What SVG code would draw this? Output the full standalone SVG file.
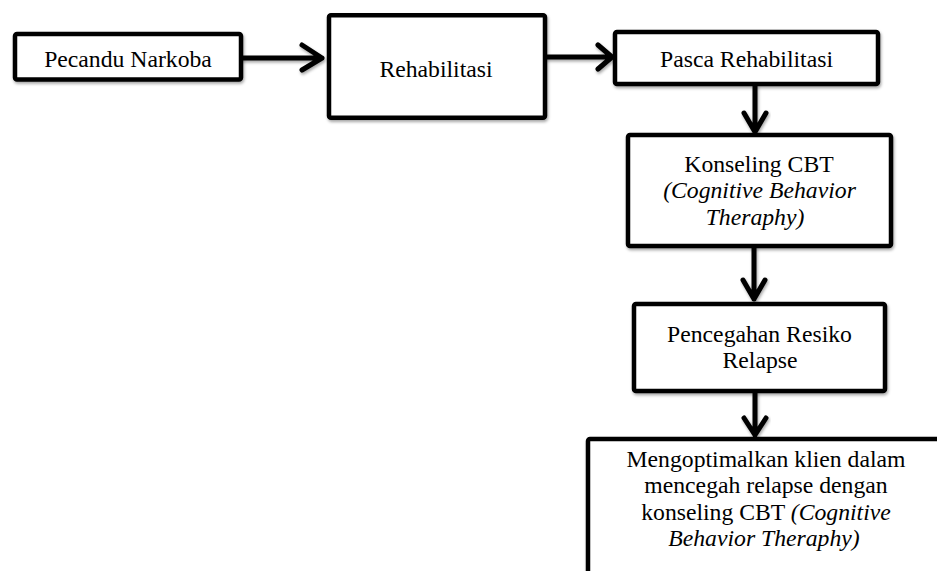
<svg xmlns="http://www.w3.org/2000/svg" width="937" height="571" viewBox="0 0 937 571">
<defs>
<filter id="sh" x="-10%" y="-10%" width="130%" height="140%">
<feDropShadow dx="1" dy="2" stdDeviation="1.5" flood-color="#000" flood-opacity="0.35"/>
</filter>
</defs>
<style>
.box{fill:#fff;stroke:#000;stroke-width:4.5;filter:url(#sh)}
.t{font-family:"Liberation Serif","Times New Roman",serif;font-size:23.7px;fill:#000;text-anchor:middle}
.i{font-style:italic}
.ar{fill:none;stroke:#000;stroke-width:5;stroke-linecap:round;stroke-linejoin:round;filter:url(#sh)}
</style>
<rect width="937" height="571" fill="#fff"/>
<g id="connectors">
<path class="ar" d="M243 58H322M302 45L322 58L302 70"/>
<path class="ar" d="M547 57H612M598 45L612 57L598 69"/>
<path class="ar" d="M755 86V132M744 113L755 132L766 113"/>
<path class="ar" d="M754 248V299M743 280L754 299L765 280"/>
<path class="ar" d="M755 393V435M744 418L755 435L766 418"/>
</g>
<g id="pecandu">
<rect class="box" x="15" y="34" width="226" height="45.5" rx="2"/>
<text class="t" x="128" y="66.5">Pecandu Narkoba</text>
</g>
<g id="rehabilitasi">
<rect class="box" x="329" y="15.3" width="216" height="102.5" rx="2"/>
<text class="t" x="436" y="77">Rehabilitasi</text>
</g>
<g id="pasca">
<rect class="box" x="615" y="32" width="263" height="52" rx="2"/>
<text class="t" x="746.5" y="67">Pasca Rehabilitasi</text>
</g>
<g id="konseling">
<rect class="box" x="628" y="135" width="263" height="111" rx="2"/>
<text class="t" x="759" y="172">Konseling CBT</text>
<text class="t i" x="759.5" y="198">(Cognitive Behavior</text>
<text class="t i" x="755" y="225">Theraphy)</text>
</g>
<g id="pencegahan">
<rect class="box" x="634" y="304" width="251" height="87" rx="2"/>
<text class="t" x="759.5" y="342">Pencegahan Resiko</text>
<text class="t" x="760" y="368">Relapse</text>
</g>
<g id="mengoptimalkan">
<rect class="box" x="588" y="439" width="380" height="200" rx="2"/>
<text class="t" x="766" y="467">Mengoptimalkan klien dalam</text>
<text class="t" x="766" y="493">mencegah relapse dengan</text>
<text class="t" x="766" y="520">konseling CBT <tspan class="i">(Cognitive</tspan></text>
<text class="t i" x="764" y="546">Behavior Theraphy)</text>
</g>
</svg>
